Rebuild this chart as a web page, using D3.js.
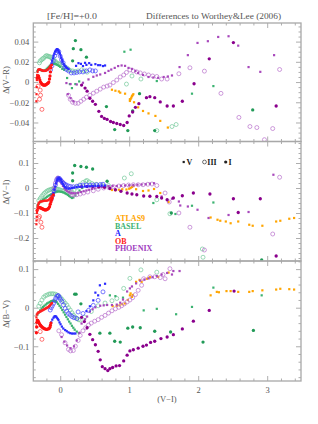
<!DOCTYPE html>
<html>
<head>
<meta charset="utf-8">
<script src="https://cdn.jsdelivr.net/npm/d3@7"></script>
<style>
body { margin: 0; background: #fff; }
svg text { font-family: "Liberation Serif", "DejaVu Serif", serif; }
</style>
</head>
<body>
<svg id="chart" width="318" height="424"></svg>
<script>
// ---- data: [V-I, delta] ----
var models = ["ATLAS9", "BASEL", "A", "OB", "PHOENIX"];
var lumClasses = ["V", "III", "I"];
var xTicks = [0, 1, 2, 3];
var vrTicks = [-0.04, -0.02, 0, 0.02, 0.04];
var viTicks = [-0.2, -0.1, 0, 0.1];
var bvTicks = [-0.1, 0, 0.1];

// panel 1: Delta(V-R)
var vr_OB_V = [[-0.345,-0.019],[-0.343,-0.012],[-0.341,-0.005],[-0.338,0.002],[-0.334,0.007],[-0.328,0.010],[-0.32,0.012],[-0.31,0.0125],[-0.30,0.0125],[-0.29,0.0122],[-0.28,0.012],[-0.27,0.0118],[-0.26,0.0115],[-0.25,0.0112],[-0.24,0.011],[-0.23,0.011],[-0.22,0.011],[-0.21,0.0112],[-0.20,0.0115],[-0.19,0.012],[-0.18,0.0125],[-0.17,0.013],[-0.16,0.014],[-0.15,0.015],[-0.14,0.016],[-0.13,0.0165],[-0.12,0.017]];
var vr_OB_I = [[-0.335,0.004],[-0.325,0.006],[-0.315,0.006],[-0.305,0.004],[-0.295,0.002],[-0.285,0.0],[-0.275,-0.001],[-0.265,-0.002],[-0.255,-0.0025],[-0.245,-0.003],[-0.235,-0.003],[-0.225,-0.003],[-0.215,-0.003],[-0.205,-0.0025],[-0.195,-0.002],[-0.185,-0.0015],[-0.175,-0.001],[-0.165,0.0],[-0.155,0.003],[-0.148,0.006],[-0.142,0.010],[-0.136,0.014]];
var vr_OB_III = [[-0.32,-0.004],[-0.29,-0.008],[-0.285,-0.013],[-0.30,-0.017],[-0.265,-0.027]];
var vr_A_V = [[-0.145,0.0138],[-0.135,0.016],[-0.125,0.0185],[-0.115,0.021],[-0.105,0.0235],[-0.095,0.026],[-0.085,0.028],[-0.075,0.030],[-0.065,0.031],[-0.055,0.032],[-0.045,0.0325],[-0.035,0.032],[-0.025,0.031],[-0.015,0.0295],[-0.005,0.028],[0.005,0.026],[0.015,0.024],[0.025,0.022],[0.035,0.020],[0.05,0.018],[0.065,0.016],[0.08,0.015],[0.10,0.014],[0.12,0.013],[0.23,0.016],[0.265,0.0187],[0.30,0.018],[0.33,0.0158],[0.36,0.019],[0.38,0.017],[0.42,0.0187],[0.45,0.017],[0.51,0.0177],[0.55,0.0167],[0.58,0.0167],[0.62,0.0158],[0.65,0.0164]];
var vr_A_III = [[-0.14,0.012],[-0.12,0.016],[-0.10,0.021],[-0.08,0.026],[-0.06,0.029],[-0.04,0.031],[-0.02,0.030],[0.0,0.0256],[0.02,0.022],[0.043,0.019],[0.065,0.015],[0.09,0.0124],[0.12,0.011],[0.16,0.009],[0.20,0.009],[0.24,0.0095],[0.28,0.010],[0.33,0.010],[0.38,0.011],[0.43,0.012],[0.47,0.011],[0.51,0.011]];
var vr_BASEL_V = [[-0.33,0.011],[-0.315,0.012],[-0.30,0.0125],[-0.285,0.012],[-0.27,0.0115],[-0.255,0.011],[-0.24,0.011],[-0.225,0.0115],[-0.21,0.012],[-0.195,0.013],[-0.18,0.014],[-0.165,0.015],[-0.15,0.016],[-0.135,0.017],[-0.12,0.0175],[-0.10,0.018],[-0.08,0.018],[-0.06,0.0175],[-0.04,0.017],[-0.02,0.016],[0.0,0.015],[0.03,0.013],[0.058,0.012],[0.10,0.004],[0.14,-0.002],[0.17,-0.006],[0.22,-0.002],[0.275,0.0006],[0.93,0.030],[1.02,0.032],[1.40,0.001],[1.91,-0.0115],[2.22,-0.004]];
var vr_BASEL_III = [[-0.30,0.019],[-0.29,0.021],[-0.27,0.022],[-0.255,0.023],[-0.24,0.0236],[-0.22,0.025],[-0.205,0.026],[-0.19,0.026],[-0.175,0.0255],[-0.16,0.025],[-0.145,0.025],[-0.13,0.024],[-0.115,0.023],[-0.097,0.022],[-0.08,0.021],[-0.065,0.020],[-0.048,0.0187],[-0.03,0.018],[-0.015,0.018],[0.0,0.0177],[0.025,0.017],[0.048,0.0164],[0.07,0.015],[0.097,0.0138],[0.12,0.0125],[0.145,0.0114],[0.18,0.011],[0.217,0.0104],[0.26,0.011],[0.31,0.012],[0.35,0.011],[0.39,0.0098],[0.96,-0.002],[1.04,0.006],[1.17,0.003],[1.40,-0.048],[1.62,-0.044],[1.68,-0.042]];
var vr_BASEL_I = [[0.18,0.021],[0.19,0.033],[0.22,0.041],[0.30,0.032],[0.38,0.0246],[0.67,-0.0243],[0.79,-0.047],[0.98,-0.048],[1.05,-0.0286],[1.15,-0.0115],[1.37,-0.048],[2.79,-0.0276]];
var vr_PHOENIX_V = [[0.09,-0.001],[0.15,-0.002],[0.24,-0.0024],[0.33,-0.0007],[0.41,0.0026],[0.48,0.0052],[0.53,0.0065],[0.58,0.0075],[0.65,0.009],[0.70,0.011],[0.74,0.0124],[0.79,0.014],[0.84,0.0158],[0.89,0.0164],[0.94,0.016],[0.99,0.014],[1.04,0.013],[1.09,0.011],[1.13,0.009],[1.20,0.007],[1.28,0.005],[1.35,0.0045],[1.42,0.0042],[1.50,0.005],[1.56,0.0055],[1.62,0.0065],[1.73,0.0148],[1.85,0.0266],[1.99,0.0387],[2.14,0.0404],[2.29,0.0446],[2.44,0.0453],[2.58,0.036],[2.73,0.0148],[2.90,0.0101],[3.10,0.0266],[0.11,-0.012],[0.15,-0.016],[0.19,-0.019]];
var vr_PHOENIX_III = [[0.12,-0.013],[0.145,-0.017],[0.18,-0.020],[0.22,-0.021],[0.26,-0.021],[0.30,-0.019],[0.34,-0.017],[0.38,-0.015],[0.43,-0.013],[0.48,-0.011],[0.53,-0.009],[0.58,-0.007],[0.63,-0.005],[0.68,-0.004],[0.72,-0.003],[0.77,-0.0005],[0.82,0.002],[0.87,0.005],[0.92,0.007],[0.96,0.0095],[1.01,0.012],[1.06,0.011],[1.11,0.010],[1.16,0.009],[1.22,0.008],[1.28,0.007],[1.34,0.006],[1.40,0.0055],[1.47,0.003],[1.55,0.003],[1.72,0.0082],[1.88,0.0141],[2.09,0.0108],[2.33,-0.0112],[2.59,-0.035],[2.75,-0.044],[2.85,-0.045],[3.08,-0.046],[3.18,0.0124],[2.96,-0.057]];
var vr_PHOENIX_I = [[0.31,-0.003],[0.36,-0.006],[0.39,-0.009],[0.43,-0.016],[0.47,-0.019],[0.51,-0.022],[0.56,-0.029],[0.60,-0.034],[0.64,-0.036],[0.68,-0.037],[0.73,-0.039],[0.77,-0.040],[0.82,-0.041],[0.87,-0.042],[0.92,-0.043],[0.97,-0.040],[1.0,-0.0335],[1.05,-0.0296],[1.09,-0.025],[1.14,-0.0214],[1.25,-0.0155],[1.30,-0.0145],[1.37,-0.0155],[1.45,-0.0197],[1.55,-0.0237],[1.64,-0.0237],[1.77,-0.019],[1.94,-0.0017],[2.16,0.023],[2.51,0.039],[3.13,-0.0237]];
var vr_ATLAS9_V = [[0.75,-0.0076],[0.80,-0.0086],[0.85,-0.0093],[0.87,-0.0105],[0.94,-0.0115],[1.01,-0.017],[1.01,-0.0187],[1.02,-0.017],[1.03,-0.0155],[1.04,-0.014],[1.05,-0.013],[1.06,-0.012],[1.07,-0.020],[1.13,-0.025],[1.20,-0.0286],[1.28,-0.031],[1.38,-0.0335],[1.45,-0.0384],[1.56,-0.045]];

// panel 2: Delta(V-I)
var vi_OB_V = [[-0.345,-0.145],[-0.343,-0.13],[-0.34,-0.115],[-0.337,-0.10],[-0.333,-0.088],[-0.328,-0.077],[-0.322,-0.068],[-0.315,-0.062],[-0.305,-0.058],[-0.29,-0.055],[-0.275,-0.054],[-0.26,-0.053],[-0.245,-0.052],[-0.23,-0.051],[-0.215,-0.051],[-0.20,-0.051],[-0.185,-0.05],[-0.17,-0.048],[-0.155,-0.044],[-0.14,-0.04],[-0.125,-0.033]];
var vi_OB_I = [[-0.335,-0.09],[-0.32,-0.08],[-0.305,-0.078],[-0.29,-0.079],[-0.275,-0.081],[-0.26,-0.083],[-0.245,-0.085],[-0.23,-0.087],[-0.215,-0.088],[-0.20,-0.087],[-0.185,-0.085],[-0.17,-0.082],[-0.155,-0.075],[-0.145,-0.065],[-0.135,-0.056],[-0.126,-0.048],[-0.115,-0.04],[-0.10,-0.028]];
var vi_OB_III = [[-0.31,-0.12],[-0.30,-0.114],[-0.28,-0.137],[-0.265,-0.157]];
var vi_A_V = [[-0.12,-0.04],[-0.11,-0.03],[-0.097,-0.02],[-0.085,-0.007],[-0.072,0.006],[-0.06,0.018],[-0.048,0.029],[-0.036,0.036],[-0.025,0.040],[-0.015,0.039],[-0.005,0.036],[0.01,0.033],[0.025,0.024],[0.039,0.016],[0.055,0.008],[0.072,0.0024],[0.09,-0.001],[0.12,-0.003],[0.145,-0.002],[0.17,0.0],[0.20,0.002],[0.24,0.004],[0.28,0.005],[0.32,0.005],[0.36,0.006],[0.39,0.006],[0.43,0.007],[0.47,0.008],[0.51,0.009],[0.55,0.009],[0.60,0.01],[0.65,0.01]];
var vi_A_III = [[-0.13,-0.045],[-0.11,-0.03],[-0.09,-0.01],[-0.07,0.012],[-0.05,0.03],[-0.03,0.039],[-0.01,0.038],[0.01,0.031],[0.03,0.024],[0.05,0.018],[0.07,0.014],[0.09,0.012],[0.12,0.008],[0.15,0.006],[0.19,0.005],[0.24,0.007],[0.29,0.01],[0.33,0.012],[0.38,0.012],[0.43,0.012],[0.48,0.012],[0.53,0.013],[0.58,0.014],[0.62,0.015]];
var vi_BASEL_V = [[-0.33,-0.07],[-0.31,-0.063],[-0.29,-0.057],[-0.27,-0.052],[-0.25,-0.047],[-0.23,-0.043],[-0.21,-0.039],[-0.19,-0.035],[-0.17,-0.031],[-0.15,-0.028],[-0.13,-0.025],[-0.11,-0.022],[-0.09,-0.019],[-0.07,-0.017],[-0.05,-0.015],[-0.03,-0.014],[-0.01,-0.014],[0.01,-0.015],[0.03,-0.016],[0.05,-0.018],[0.07,-0.021],[0.09,-0.024],[0.11,-0.028],[0.13,-0.032],[0.15,-0.036],[0.17,-0.040],[0.19,-0.038],[0.22,-0.03],[0.25,-0.02],[0.28,-0.01],[0.32,0.0],[1.35,-0.06],[1.91,-0.071],[2.22,-0.058],[1.67,-0.104]];
var vi_BASEL_III = [[-0.31,-0.05],[-0.29,-0.042],[-0.27,-0.034],[-0.25,-0.027],[-0.23,-0.021],[-0.21,-0.016],[-0.19,-0.012],[-0.17,-0.009],[-0.15,-0.007],[-0.13,-0.005],[-0.11,-0.004],[-0.09,-0.003],[-0.07,-0.003],[-0.05,-0.004],[-0.03,-0.005],[-0.01,-0.007],[0.01,-0.009],[0.03,-0.011],[0.05,-0.013],[0.08,-0.016],[0.11,-0.019],[0.14,-0.02],[0.17,-0.016],[0.20,-0.008],[0.24,0.003],[0.28,0.012],[0.33,0.022],[0.37,0.028],[0.39,0.030],[0.42,0.024],[0.46,0.018],[0.52,0.015],[0.60,0.012],[0.70,0.010],[0.93,0.040],[1.03,0.057],[1.40,-0.047],[1.59,-0.103],[2.06,-0.244],[2.07,-0.277]];
var vi_BASEL_I = [[0.18,0.029],[0.18,0.060],[0.21,0.090],[0.30,0.086],[0.38,0.083],[0.47,0.076],[0.68,0.027],[1.61,-0.10],[2.92,-0.288]];
var vi_PHOENIX_V = [[-0.10,-0.02],[-0.08,0.0],[-0.06,0.02],[-0.045,0.033],[-0.03,0.037],[-0.015,0.034],[0.0,0.028],[0.02,0.018],[0.04,0.008],[0.06,-0.001],[0.08,-0.008],[0.10,-0.013],[0.13,-0.017],[0.16,-0.02],[0.19,-0.021],[0.22,-0.021],[0.26,-0.019],[0.30,-0.016],[0.34,-0.013],[0.38,-0.01],[0.42,-0.007],[0.46,-0.004],[0.50,-0.001],[0.55,0.002],[0.60,0.004],[0.65,0.006],[0.70,0.007],[0.76,0.008],[0.82,0.008],[0.88,0.009],[0.94,0.01],[1.00,0.011],[1.06,0.012],[1.12,0.013],[1.18,0.014],[1.24,0.015],[1.30,0.017],[1.36,0.019],[1.47,-0.034],[1.62,-0.043],[1.72,-0.054],[1.74,-0.07],[1.85,-0.074],[1.99,-0.087],[2.15,-0.12],[2.44,-0.108],[2.73,-0.096],[3.09,0.053]];
var vi_PHOENIX_III = [[-0.09,0.0],[-0.07,0.02],[-0.05,0.035],[-0.035,0.040],[-0.02,0.038],[0.0,0.032],[0.02,0.026],[0.048,0.020],[0.07,0.01],[0.095,0.0],[0.12,-0.007],[0.145,-0.017],[0.17,-0.027],[0.20,-0.028],[0.24,-0.027],[0.29,-0.024],[0.34,-0.02],[0.40,-0.016],[0.48,-0.011],[0.55,-0.005],[0.63,0.0],[0.70,0.003],[0.77,0.006],[0.85,0.008],[0.92,0.01],[0.99,0.012],[1.06,0.013],[1.13,0.013],[1.20,0.013],[1.27,0.015],[1.33,0.016],[1.40,0.01],[1.52,-0.02],[1.58,-0.056],[1.72,-0.10],[1.88,-0.157],[2.09,-0.248],[3.08,-0.184],[3.18,0.043]];
var vi_PHOENIX_I = [[0.31,0.005],[0.39,0.006],[0.47,0.006],[0.56,0.005],[0.64,0.003],[0.72,-0.002],[0.80,-0.007],[0.88,-0.013],[0.97,-0.02],[1.04,-0.024],[1.11,-0.027],[1.21,-0.032],[1.30,-0.033],[1.40,-0.034],[1.47,-0.040],[1.55,-0.047],[1.64,-0.040],[1.77,-0.031],[1.93,-0.02],[2.17,-0.024],[2.51,-0.043],[2.58,-0.098],[2.90,-0.043],[3.13,-0.272]];
var vi_ATLAS9_V = [[0.75,-0.008],[0.80,-0.009],[0.85,-0.007],[0.90,-0.005],[0.96,-0.006],[1.00,-0.003],[1.02,0.0],[1.04,0.004],[1.06,0.008],[1.10,-0.005],[1.20,-0.012],[1.28,-0.01],[1.36,-0.004],[1.45,-0.02],[1.57,-0.056],[2.18,-0.118],[2.28,-0.127],[2.32,-0.131],[2.40,-0.134],[2.47,-0.141],[2.58,-0.134],[2.74,-0.147],[2.79,-0.151],[2.93,-0.151],[3.13,-0.134],[3.19,-0.131],[3.32,-0.123],[3.39,-0.12]];

// panel 3: Delta(B-V)
var bv_OB_V = [[-0.345,-0.025],[-0.34,-0.018],[-0.33,-0.015],[-0.32,-0.013],[-0.31,-0.012],[-0.30,-0.011],[-0.29,-0.01],[-0.28,-0.009],[-0.27,-0.008],[-0.26,-0.007],[-0.25,-0.006],[-0.24,-0.005],[-0.23,-0.004],[-0.22,-0.003],[-0.21,-0.002],[-0.20,-0.001],[-0.19,0.0],[-0.18,0.001],[-0.17,0.002],[-0.16,0.004],[-0.15,0.006],[-0.14,0.008],[-0.13,0.01],[-0.12,0.012]];
var bv_OB_I = [[-0.345,-0.065],[-0.342,-0.05],[-0.338,-0.038],[-0.333,-0.032],[-0.325,-0.033],[-0.315,-0.036],[-0.305,-0.04],[-0.295,-0.043],[-0.285,-0.046],[-0.275,-0.048],[-0.265,-0.05],[-0.25,-0.052],[-0.235,-0.054],[-0.22,-0.055],[-0.205,-0.056],[-0.19,-0.056],[-0.175,-0.055],[-0.16,-0.054],[-0.15,-0.051],[-0.142,-0.046],[-0.135,-0.04]];
var bv_OB_III = [[-0.32,-0.045],[-0.29,-0.062],[-0.265,-0.082]];
var bv_A_V = [[-0.145,-0.045],[-0.13,-0.038],[-0.115,-0.031],[-0.097,-0.026],[-0.085,-0.023],[-0.072,-0.022],[-0.06,-0.023],[-0.048,-0.026],[-0.035,-0.029],[-0.025,-0.032],[-0.01,-0.038],[0.005,-0.043],[0.024,-0.049],[0.045,-0.054],[0.072,-0.058],[0.095,-0.061],[0.12,-0.064],[0.145,-0.066],[0.17,-0.067],[0.195,-0.067],[0.22,-0.067],[0.38,-0.009],[0.43,0.0036],[0.48,0.019],[0.51,0.039],[0.55,0.032],[0.575,0.058],[0.65,0.062]];
var bv_A_III = [[-0.145,-0.006],[-0.13,0.0],[-0.115,0.005],[-0.097,0.011],[-0.08,0.018],[-0.065,0.024],[-0.048,0.029],[-0.035,0.031],[-0.025,0.031],[-0.01,0.026],[0.005,0.021],[0.024,0.016],[0.048,0.007],[0.072,-0.002],[0.095,-0.009],[0.12,-0.015],[0.145,-0.019],[0.17,-0.023],[0.2,-0.026],[0.24,-0.028],[0.26,-0.011],[0.33,-0.015],[0.41,-0.007],[0.48,0.006],[0.55,0.019],[0.62,0.041]];
var bv_BASEL_V = [[-0.33,-0.018],[-0.31,-0.012],[-0.29,-0.007],[-0.27,-0.002],[-0.25,0.002],[-0.23,0.005],[-0.21,0.008],[-0.19,0.011],[-0.17,0.013],[-0.15,0.015],[-0.13,0.017],[-0.11,0.018],[-0.09,0.018],[-0.07,0.017],[-0.05,0.014],[-0.03,0.01],[-0.01,0.005],[0.01,0.0],[0.03,-0.006],[0.05,-0.012],[0.07,-0.018],[0.09,-0.024],[0.11,-0.03],[0.13,-0.036],[0.15,-0.041],[0.17,-0.047],[0.19,-0.052],[0.21,-0.057],[0.24,-0.062],[0.27,-0.066],[0.72,0.032],[0.80,0.03],[0.91,0.026],[1.21,-0.007],[1.40,-0.003],[1.68,-0.017],[1.91,0.002],[2.22,0.052],[2.92,0.032]];
var bv_BASEL_III = [[-0.31,0.004],[-0.29,0.011],[-0.265,0.02],[-0.24,0.027],[-0.215,0.031],[-0.19,0.033],[-0.165,0.035],[-0.145,0.036],[-0.12,0.036],[-0.097,0.036],[-0.07,0.035],[-0.048,0.033],[-0.025,0.03],[0.0,0.027],[0.025,0.022],[0.048,0.017],[0.072,0.012],[0.097,0.007],[0.12,0.0],[0.145,-0.006],[0.17,-0.013],[0.19,-0.019],[0.215,-0.024],[0.24,-0.028],[0.265,-0.031],[0.29,-0.032],[0.35,-0.025],[0.45,-0.01],[0.55,0.005],[0.65,0.012],[0.75,0.018],[0.82,0.024],[0.92,0.05],[1.01,0.076],[1.17,0.098],[1.40,0.092]];
var bv_BASEL_I = [[0.21,0.035],[0.23,0.035],[0.30,0.010],[0.575,-0.066],[0.72,-0.066],[0.79,-0.087],[0.87,-0.089],[0.98,-0.053],[1.05,-0.05],[1.16,-0.052],[1.37,-0.061],[1.60,-0.063],[2.07,-0.089],[2.80,-0.059]];
var bv_PHOENIX_V = [[0.02,-0.076],[0.06,-0.088],[0.10,-0.098],[0.15,-0.105],[0.2,-0.1],[0.24,-0.085],[0.28,-0.065],[0.31,-0.041],[0.36,-0.03],[0.39,-0.023],[0.43,-0.01],[0.47,-0.004],[0.51,0.001],[0.58,0.005],[0.63,0.006],[0.68,0.007],[0.75,0.007],[0.82,0.008],[0.87,0.013],[0.91,0.021],[0.97,0.042],[1.01,0.05],[1.04,0.055],[1.10,0.063],[1.16,0.07],[1.22,0.073],[1.28,0.076],[1.34,0.079],[1.40,0.082],[1.47,0.086],[1.55,0.09],[1.62,0.086],[1.64,0.095],[1.73,0.095]];
var bv_PHOENIX_III = [[-0.02,-0.06],[0.02,-0.07],[0.07,-0.091],[0.12,-0.108],[0.15,-0.112],[0.19,-0.111],[0.22,-0.1],[0.26,-0.085],[0.29,-0.072],[0.33,-0.06],[0.37,-0.052],[0.41,-0.045],[0.45,-0.04],[0.5,-0.035],[0.55,-0.031],[0.6,-0.025],[0.65,-0.02],[0.7,-0.014],[0.75,-0.008],[0.8,-0.003],[0.85,0.001],[0.89,0.005],[0.93,0.01],[0.97,0.015],[1.01,0.02],[1.05,0.026],[1.09,0.034],[1.13,0.045],[1.18,0.058],[1.21,0.075],[1.30,0.08],[1.37,0.08],[1.45,0.078],[1.49,0.086],[1.52,0.075],[1.59,0.101]];
var bv_PHOENIX_I = [[0.31,-0.025],[0.35,-0.036],[0.39,-0.052],[0.43,-0.069],[0.47,-0.083],[0.51,-0.096],[0.55,-0.113],[0.58,-0.135],[0.61,-0.153],[0.65,-0.158],[0.69,-0.163],[0.72,-0.158],[0.76,-0.155],[0.81,-0.151],[0.86,-0.15],[0.92,-0.138],[0.97,-0.123],[1.01,-0.112],[1.06,-0.109],[1.13,-0.105],[1.20,-0.1],[1.25,-0.097],[1.31,-0.09],[1.37,-0.087],[1.46,-0.08],[1.55,-0.076],[1.64,-0.07],[1.77,-0.055],[1.93,-0.035],[2.16,-0.007],[2.52,0.043]];
var bv_ATLAS9_V = [[0.76,0.004],[0.82,0.005],[0.86,0.006],[0.90,0.009],[0.94,0.011],[0.98,0.02],[1.01,0.032],[1.02,0.037],[1.04,0.028],[1.05,0.033],[1.10,0.067],[1.15,0.072],[1.18,0.067],[1.26,0.075],[1.30,0.079],[1.42,0.08],[1.57,0.091],[2.18,0.032],[2.27,0.041],[2.30,0.040],[2.41,0.043],[2.47,0.043],[2.58,0.041],[2.74,0.041],[2.79,0.043],[2.93,0.045],[3.13,0.047],[3.19,0.049],[3.32,0.048],[3.39,0.047]];

// ---- styles ----
var colors = {
  ATLAS9:  {V: "#ffa500", III: "#ffa500", I: "#ff9900"},
  BASEL:   {V: "#3cb371", III: "#72c99a", I: "#219a57"},
  A:       {V: "#2a2aff", III: "#4040ff", I: "#2020ee"},
  OB:      {V: "#ff2020", III: "#ff3b3b", I: "#ff1010"},
  PHOENIX: {V: "#a848bc", III: "#b870cc", I: "#8a008c"}
};
var legendColors = {ATLAS9: "#ffa500", BASEL: "#3cb371", A: "#2020ff", OB: "#ff1a1a", PHOENIX: "#a040c0"};

var svg = d3.select("#chart"),
    left = 33.3, right = 301,
    width = right - left;

var panels = [
  {title: "\u0394(V\u2212R)", top: 23,    height: 118.5, domain: [-0.0588, 0.0584], ticks: vrTicks, minor: 0.005, titleY: 80,
   data: {OB: {V: vr_OB_V, III: vr_OB_III, I: vr_OB_I}, A: {V: vr_A_V, III: vr_A_III}, BASEL: {V: vr_BASEL_V, III: vr_BASEL_III, I: vr_BASEL_I}, PHOENIX: {V: vr_PHOENIX_V, III: vr_PHOENIX_III, I: vr_PHOENIX_I}, ATLAS9: {V: vr_ATLAS9_V}}},
  {title: "\u0394(V\u2212I)", top: 141.5, height: 119.5, domain: [-0.292, 0.186], ticks: viTicks, minor: 0.02, titleY: 192,
   data: {OB: {V: vi_OB_V, III: vi_OB_III, I: vi_OB_I}, A: {V: vi_A_V, III: vi_A_III}, BASEL: {V: vi_BASEL_V, III: vi_BASEL_III, I: vi_BASEL_I}, PHOENIX: {V: vi_PHOENIX_V, III: vi_PHOENIX_III, I: vi_PHOENIX_I}, ATLAS9: {V: vi_ATLAS9_V}}},
  {title: "\u0394(B\u2212V)", top: 261,   height: 120,   domain: [-0.19, 0.121], ticks: bvTicks, minor: 0.02, titleY: 314,
   data: {OB: {V: bv_OB_V, III: bv_OB_III, I: bv_OB_I}, A: {V: bv_A_V, III: bv_A_III}, BASEL: {V: bv_BASEL_V, III: bv_BASEL_III, I: bv_BASEL_I}, PHOENIX: {V: bv_PHOENIX_V, III: bv_PHOENIX_III, I: bv_PHOENIX_I}, ATLAS9: {V: bv_ATLAS9_V}}}
];

var x = d3.scaleLinear().domain([-0.39, 3.49]).range([0, width]);
var xMinor = d3.range(-0.2, 3.5, 0.2).filter(function(d) { return Math.abs(d - Math.round(d)) > 0.01; });
var fmt = d3.format("~g");

// draw order (back to front)
var drawOrder = [["BASEL","III"],["BASEL","V"],["BASEL","I"],["ATLAS9","V"],["PHOENIX","III"],["PHOENIX","V"],["PHOENIX","I"],["A","III"],["A","V"],["OB","III"],["OB","I"],["OB","V"]];

function drawSymbols(g, pts, cls, color, x, y) {
  if (cls === "V") {
    g.selectAll(null).data(pts).enter().append("rect")
      .attr("x", function(d) { return x(d[0]) - 1.1; })
      .attr("y", function(d) { return y(d[1]) - 1.1; })
      .attr("width", 2.2).attr("height", 2.2)
      .attr("fill", color);
  } else if (cls === "III") {
    g.selectAll(null).data(pts).enter().append("circle")
      .attr("cx", function(d) { return x(d[0]); })
      .attr("cy", function(d) { return y(d[1]); })
      .attr("r", 2.0)
      .attr("fill", "none").attr("stroke", color).attr("stroke-width", 0.7);
  } else {
    g.selectAll(null).data(pts).enter().append("circle")
      .attr("cx", function(d) { return x(d[0]); })
      .attr("cy", function(d) { return y(d[1]); })
      .attr("r", 1.65)
      .attr("fill", color);
  }
}

panels.forEach(function(p, i) {
  var y = d3.scaleLinear().domain(p.domain).range([p.height, 0]);
  var g = svg.append("g").attr("transform", "translate(" + left + "," + p.top + ")");

  g.append("clipPath").attr("id", "clip" + i)
    .append("rect").attr("width", width).attr("height", p.height);

  var yMinor = d3.range(Math.ceil(p.domain[0] / p.minor) * p.minor, p.domain[1], p.minor)
    .filter(function(d) { return p.ticks.every(function(t) { return Math.abs(t - d) > p.minor / 10; }); });

  // ticks pointing inward on all four sides
  g.append("g").attr("class", "axis").call(d3.axisLeft(y).tickValues(p.ticks).tickSize(-5).tickPadding(4).tickFormat(fmt));
  g.append("g").attr("class", "axis").call(d3.axisLeft(y).tickValues(yMinor).tickSize(-2.5).tickFormat(""));
  g.append("g").attr("class", "axis").attr("transform", "translate(" + width + ",0)")
    .call(d3.axisRight(y).tickValues(p.ticks).tickSize(-5).tickFormat(""));
  g.append("g").attr("class", "axis").attr("transform", "translate(" + width + ",0)")
    .call(d3.axisRight(y).tickValues(yMinor).tickSize(-2.5).tickFormat(""));
  g.append("g").attr("class", "axis").call(d3.axisTop(x).tickValues(xTicks).tickSize(-5).tickFormat(""));
  g.append("g").attr("class", "axis").call(d3.axisTop(x).tickValues(xMinor).tickSize(-2.5).tickFormat(""));
  g.append("g").attr("class", "axis").attr("transform", "translate(0," + p.height + ")")
    .call(d3.axisBottom(x).tickValues(xTicks).tickSize(-5).tickPadding(6).tickFormat(i === 2 ? fmt : ""));
  g.append("g").attr("class", "axis").attr("transform", "translate(0," + p.height + ")")
    .call(d3.axisBottom(x).tickValues(xMinor).tickSize(-2.5).tickFormat(""));

  var pg = g.append("g").attr("clip-path", "url(#clip" + i + ")");
  drawOrder.forEach(function(s) {
    var pts = p.data[s[0]] && p.data[s[0]][s[1]];
    if (pts) drawSymbols(pg, pts, s[1], colors[s[0]][s[1]], x, y);
  });

  g.append("rect").attr("width", width).attr("height", p.height)
    .attr("fill", "none").attr("stroke", "#a8a8a8").attr("stroke-width", 1.3);

  svg.append("text")
    .attr("transform", "translate(9," + p.titleY + ") rotate(-90)")
    .attr("text-anchor", "middle")
    .attr("font-size", 8.5).attr("fill", "#555")
    .text(p.title);
});

svg.selectAll(".axis .domain").remove();
svg.selectAll(".axis line").attr("stroke", "#999").attr("stroke-width", 0.8);
svg.selectAll(".axis text").attr("font-size", 8.5).attr("fill", "#555")
  .attr("font-family", "\"Liberation Serif\", \"DejaVu Serif\", serif");

// header
svg.append("text").attr("x", 47).attr("y", 18.5).attr("font-size", 8).attr("fill", "#555")
  .attr("textLength", 50).attr("lengthAdjust", "spacingAndGlyphs").text("[Fe/H]=+0.0");
svg.append("text").attr("x", 146).attr("y", 18.5).attr("font-size", 8).attr("fill", "#555")
  .attr("textLength", 135).attr("lengthAdjust", "spacingAndGlyphs").text("Differences to Worthey&Lee (2006)");

// x title
svg.append("text").attr("x", 167).attr("y", 402).attr("text-anchor", "middle")
  .attr("font-size", 8.5).attr("fill", "#555").text("(V\u2212I)");

// model legend
var legend = svg.append("g").attr("transform", "translate(115,221)");
models.forEach(function(m, k) {
  legend.append("text").attr("y", k * 7.5)
    .attr("font-size", 8).attr("font-weight", "bold").attr("fill", legendColors[m]).text(m);
});

// luminosity class legend
var lum = svg.append("g").attr("transform", "translate(0,162)");
var lumPos = [183.7, 204.5, 225.7];
lumClasses.forEach(function(c, k) {
  var cx = lumPos[k];
  if (c === "V") lum.append("rect").attr("x", cx - 1.1).attr("y", -1.1).attr("width", 2.2).attr("height", 2.2).attr("fill", "#222");
  else if (c === "III") lum.append("circle").attr("cx", cx).attr("cy", 0).attr("r", 1.9).attr("fill", "none").attr("stroke", "#333").attr("stroke-width", 0.7);
  else lum.append("circle").attr("cx", cx).attr("cy", 0).attr("r", 1.6).attr("fill", "#222");
  lum.append("text").attr("x", cx + 2.8).attr("y", 2.8).attr("font-size", 8).attr("font-weight", "bold").attr("fill", "#222").text(c);
});
</script>
</body>
</html>
